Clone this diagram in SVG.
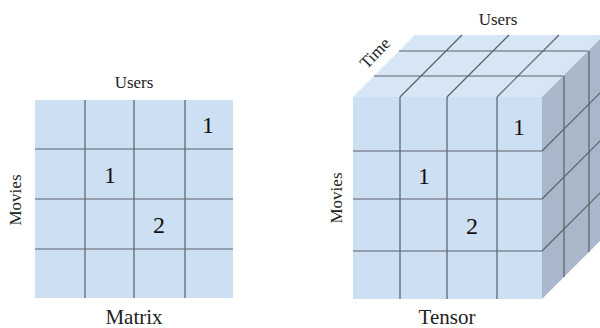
<svg xmlns="http://www.w3.org/2000/svg" width="600" height="328" viewBox="0 0 600 328">
  <style>
    .lbl { font-family: "Liberation Serif", "Times New Roman", serif; fill: #222; }
    .axis { font-size: 17px; }
    .title { font-size: 21px; }
    .num { font-family: "Liberation Serif", "Times New Roman", serif; font-size: 24px; fill: #111; text-anchor: middle; }
    .grid { stroke: #5b6068; stroke-width: 1.2; fill: none; }
    .front { fill: #cddff2; }
    .top { fill: #d7e6f5; }
    .side { fill: #a8b8ca; }
  </style>
  <rect width="600" height="328" fill="#ffffff"/>

  <g id="matrix">
    <rect class="front" x="35" y="100" width="198" height="198"/>
    <path class="grid" d="M85,100 V298 M134,100 V298 M185,100 V298 M35,149 H233 M35,199 H233 M35,249 H233"/>
    <text class="num" x="208" y="133">1</text>
    <text class="num" x="110" y="183">1</text>
    <text class="num" x="159" y="233">2</text>
    <text class="lbl axis" x="134" y="88" text-anchor="middle">Users</text>
    <text class="lbl axis" transform="translate(21,200) rotate(-90)" text-anchor="middle">Movies</text>
    <text class="lbl title" x="134" y="324" text-anchor="middle">Matrix</text>
  </g>

  <g id="tensor">
    <polygon class="top" points="353,97 415,35 604,35 542,97"/>
    <polygon class="side" points="542,97 604,35 604,237 542,299"/>
    <rect class="front" x="353" y="97" width="189" height="202"/>
    <!-- front grid -->
    <path class="grid" d="M400,97 V299 M447,97 V299 M497,97 V299 M353,151 H542 M353,199 H542 M353,251 H542"/>
    <!-- top grid -->
    <path class="grid" d="M374,76 H563 M399,51 H588 M400,97 L462,35 M447,97 L509,35 M497,97 L559,35"/>
    <!-- side grid -->
    <path class="grid" d="M542,151 L604,89 M542,199 L604,137 M542,251 L604,189 M564,76 V277 M589,51 V252"/>
    <text class="num" x="519" y="135">1</text>
    <text class="num" x="424" y="184">1</text>
    <text class="num" x="472" y="234">2</text>
    <text class="lbl axis" x="498" y="25" text-anchor="middle">Users</text>
    <text class="lbl axis" transform="translate(379,57) rotate(-46)" text-anchor="middle">Time</text>
    <text class="lbl axis" transform="translate(342,198) rotate(-90)" text-anchor="middle">Movies</text>
    <text class="lbl title" x="447" y="324" text-anchor="middle">Tensor</text>
  </g>
</svg>
